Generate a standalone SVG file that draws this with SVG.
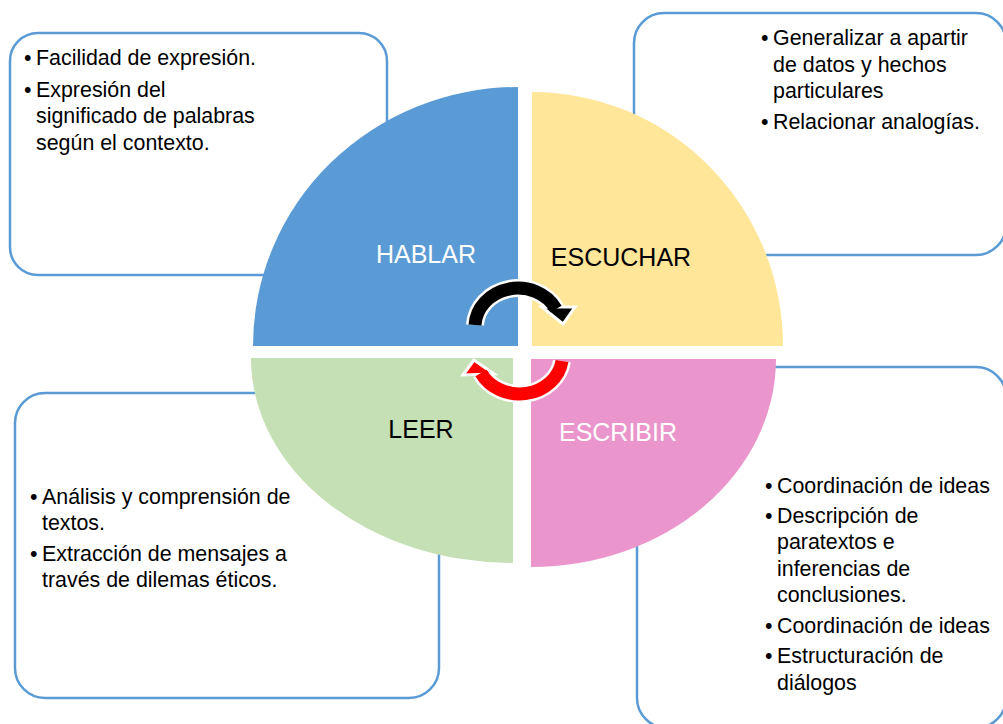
<svg xmlns="http://www.w3.org/2000/svg" width="1003" height="724" viewBox="0 0 1003 724">
<style>
.box{fill:#fff;stroke:#5B9BD5;stroke-width:2.5}
.t{font-family:"Liberation Sans",Arial,sans-serif;font-size:21.4px;fill:#000}
.lbl{font-family:"Liberation Sans",Arial,sans-serif;font-size:25px}
</style>
<rect width="1003" height="724" fill="#fff"/>
<g id="box-hablar">
<rect class="box" x="10" y="33" width="377" height="242" rx="28"/>
<text class="t"><tspan x="24" y="65">•</tspan><tspan x="36" y="65">Facilidad de expresión.</tspan><tspan x="24" y="97">•</tspan><tspan x="36" y="97">Expresión del</tspan><tspan x="36" y="123">significado de palabras</tspan><tspan x="36" y="150">según el contexto.</tspan></text>
</g>
<g id="box-escuchar">
<rect class="box" x="634" y="13" width="372" height="242" rx="30"/>
<text class="t"><tspan x="761" y="45">•</tspan><tspan x="773" y="45">Generalizar a apartir</tspan><tspan x="773" y="72">de datos y hechos</tspan><tspan x="773" y="98">particulares</tspan><tspan x="761" y="129">•</tspan><tspan x="773" y="129">Relacionar analogías.</tspan></text>
</g>
<g id="box-leer">
<rect class="box" x="15" y="393" width="424" height="305" rx="30"/>
<text class="t"><tspan x="30" y="504">•</tspan><tspan x="42" y="504">Análisis y comprensión de</tspan><tspan x="42" y="530">textos.</tspan><tspan x="30" y="561">•</tspan><tspan x="42" y="561">Extracción de mensajes a</tspan><tspan x="42" y="587">través de dilemas éticos.</tspan></text>
</g>
<g id="box-escribir">
<rect class="box" x="637" y="367" width="369" height="361" rx="30"/>
<text class="t"><tspan x="765" y="493">•</tspan><tspan x="777" y="493">Coordinación de ideas</tspan><tspan x="765" y="523">•</tspan><tspan x="777" y="523">Descripción de</tspan><tspan x="777" y="549">paratextos e</tspan><tspan x="777" y="576">inferencias de</tspan><tspan x="777" y="602">conclusiones.</tspan><tspan x="765" y="633">•</tspan><tspan x="777" y="633">Coordinación de ideas</tspan><tspan x="765" y="663">•</tspan><tspan x="777" y="663">Estructuración de</tspan><tspan x="777" y="690">diálogos</tspan></text>
</g>
<g id="q-hablar">
<path d="M518,346 L253,346 A265,259 0 0 1 518,87 Z" fill="#5B9BD5"/>
<text class="lbl" x="426" y="263" text-anchor="middle" fill="#fff" font-size="26">HABLAR</text>
</g>
<g id="q-escuchar">
<path d="M532,346 L532,92 A251,254 0 0 1 783,346 Z" fill="#FFE699"/>
<text class="lbl" x="621" y="266" text-anchor="middle" fill="#000">ESCUCHAR</text>
</g>
<g id="q-leer">
<path d="M513,358 L251,358 A262,205 0 0 0 513,563 Z" fill="#C5E0B4"/>
<text class="lbl" x="421" y="438" text-anchor="middle" fill="#000">LEER</text>
</g>
<g id="q-escribir">
<path d="M531,359 L776,359 A245,208 0 0 1 531,567 Z" fill="#EA96CC"/>
<text class="lbl" x="618" y="441" text-anchor="middle" fill="#fff">ESCRIBIR</text>
</g>
<g id="connectors">
<path d="M475,325 A43,39 0 0 1 556,309" fill="none" stroke="#fff" stroke-width="18"/>
<polygon points="542,307 575,307 563,324" fill="#000" stroke="#fff" stroke-width="3" stroke-linejoin="miter"/>
<path d="M475,325 A43,39 0 0 1 556,309" fill="none" stroke="#000" stroke-width="13"/>
<path d="M562,361 A43,38 0 0 1 481,373" fill="none" stroke="#fff" stroke-width="18"/>
<polygon points="474,360 463,375 494,374" fill="#FF0000" stroke="#fff" stroke-width="3"/>
<path d="M562,361 A43,38 0 0 1 481,373" fill="none" stroke="#FF0000" stroke-width="13"/>
</g>
</svg>
